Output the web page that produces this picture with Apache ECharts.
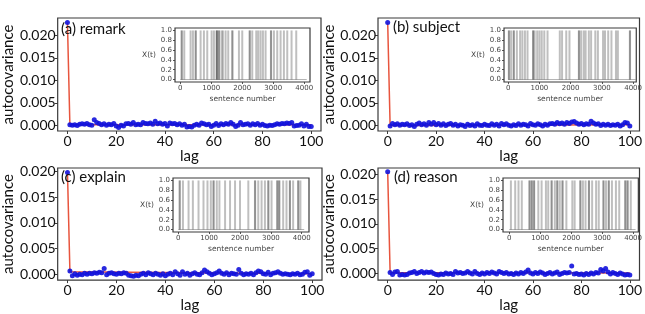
<!DOCTYPE html>
<html>
<head>
<meta charset="utf-8">
<script src="https://cdn.jsdelivr.net/npm/echarts@6.0.0/dist/echarts.min.js"></script>
<style>
  html, body { margin: 0; padding: 0; background: #fff; }
  #chart { width: 645px; height: 314px; }
</style>
</head>
<body>
<div id="chart"></div>
<script>
// tick labels
const lagTicks = [0, 20, 40, 60, 80, 100]
const acovTicks = [0, 0.005, 0.01, 0.015, 0.02]
const sentenceTicks = [0, 1000, 2000, 3000, 4000]
const xtTicks = [0, 0.2, 0.4, 0.6, 0.8, 1.0]
const panelTitles = ['(a) remark', '(b) subject', '(c) explain', '(d) reason']

// autocovariance for lag 0..100
const acfA = [0.0229,
  0.0001, 0.0000, 0.0001, -0.0001, 0.0002, 0.0003, 0.0002, 0.0004, 0.0001, 0.0000,
  0.0012, 0.0006, 0.0004, 0.0001, 0.0003, 0.0000, 0.0002, 0.0001, 0.0004, -0.0002,
  -0.0005, 0.0000, -0.0002, 0.0003, 0.0004, 0.0002, 0.0006, 0.0001, 0.0002, 0.0001,
  0.0006, 0.0004, 0.0003, 0.0005, 0.0002, 0.0009, 0.0003, 0.0005, 0.0002, 0.0004,
  -0.0002, 0.0005, 0.0003, 0.0004, 0.0001, 0.0003, 0.0000, 0.0002, -0.0004, -0.0003,
  -0.0004, 0.0000, 0.0002, 0.0000, 0.0005, 0.0003, 0.0001, 0.0002, -0.0003, 0.0000,
  0.0004, -0.0001, 0.0003, 0.0001, 0.0004, 0.0002, 0.0006, 0.0002, -0.0003, 0.0000,
  0.0006, 0.0001, 0.0002, 0.0003, 0.0000, 0.0003, 0.0001, 0.0004, 0.0000, 0.0002,
  -0.0001, -0.0002, 0.0000, -0.0001, 0.0001, 0.0003, 0.0002, 0.0004, 0.0003, 0.0005,
  0.0004, 0.0006, -0.0002, -0.0001, 0.0000, 0.0003, -0.0002, 0.0002, -0.0003, -0.0003]
const acfB = [0.0229,
  -0.0002, 0.0004, 0.0001, 0.0003, 0.0000, 0.0002, 0.0001, 0.0003, -0.0001, 0.0001,
  -0.0003, 0.0002, 0.0005, 0.0001, 0.0003, 0.0000, 0.0006, 0.0002, 0.0006, 0.0001,
  0.0004, 0.0000, 0.0003, -0.0001, 0.0002, 0.0004, 0.0000, 0.0002, -0.0002, 0.0001,
  0.0000, -0.0003, 0.0002, -0.0001, 0.0001, -0.0002, 0.0003, 0.0000, -0.0001, 0.0002,
  0.0000, -0.0001, 0.0003, 0.0000, 0.0002, -0.0002, 0.0004, 0.0001, 0.0003, 0.0000,
  -0.0002, 0.0001, -0.0001, 0.0003, 0.0000, 0.0002, 0.0001, -0.0002, 0.0004, 0.0001,
  0.0000, 0.0003, 0.0001, -0.0002, 0.0002, 0.0000, 0.0003, 0.0004, 0.0002, 0.0006,
  0.0003, 0.0005, 0.0002, 0.0006, 0.0004, 0.0007, 0.0008, 0.0005, 0.0002, 0.0004,
  0.0001, 0.0003, 0.0002, 0.0009, 0.0005, 0.0002, 0.0003, -0.0001, 0.0002, 0.0000,
  0.0002, -0.0001, 0.0001, 0.0000, 0.0002, -0.0002, 0.0001, 0.0006, 0.0005, -0.0002]
const acfC = [0.0198,
  0.0006, -0.0003, 0.0001, -0.0002, 0.0000, -0.0001, 0.0002, 0.0000, 0.0002, 0.0001,
  0.0003, 0.0002, 0.0004, 0.0003, 0.0011, -0.0001, 0.0002, 0.0003, 0.0001, 0.0000,
  0.0002, 0.0001, 0.0003, 0.0002, -0.0002, -0.0003, -0.0004, -0.0002, -0.0003, 0.0000,
  0.0002, -0.0001, 0.0003, 0.0001, -0.0001, 0.0002, 0.0000, -0.0002, 0.0001, -0.0003,
  0.0000, 0.0002, -0.0001, 0.0005, 0.0001, -0.0002, 0.0005, 0.0000, 0.0002, -0.0002,
  0.0001, 0.0003, 0.0000, -0.0001, 0.0003, 0.0008, 0.0005, 0.0002, -0.0001, 0.0001,
  0.0003, 0.0006, 0.0002, 0.0000, 0.0003, -0.0001, 0.0002, 0.0001, 0.0000, 0.0009,
  0.0002, -0.0001, 0.0001, 0.0000, 0.0002, -0.0001, 0.0003, 0.0006, 0.0005, 0.0001,
  0.0000, 0.0004, -0.0001, 0.0002, 0.0003, 0.0005, 0.0002, 0.0000, 0.0001, 0.0000,
  -0.0001, 0.0001, 0.0000, 0.0002, -0.0001, 0.0000, 0.0004, 0.0005, -0.0002, 0.0001]
const acfD = [0.0205,
  0.0002, -0.0002, 0.0003, 0.0004, -0.0003, -0.0002, -0.0003, -0.0002, 0.0001, 0.0002,
  0.0004, 0.0000, 0.0002, 0.0004, 0.0001, 0.0003, 0.0002, 0.0003, 0.0000, -0.0002,
  -0.0003, -0.0001, -0.0002, 0.0001, -0.0001, 0.0000, -0.0002, 0.0004, 0.0001, 0.0002,
  0.0000, 0.0001, 0.0004, 0.0001, -0.0001, 0.0004, 0.0000, -0.0002, 0.0001, -0.0001,
  0.0002, 0.0000, 0.0003, 0.0001, -0.0001, 0.0004, 0.0002, 0.0000, 0.0002, -0.0001,
  0.0000, -0.0002, 0.0001, -0.0001, 0.0002, 0.0000, 0.0003, 0.0007, 0.0001, -0.0001,
  0.0002, 0.0000, 0.0003, 0.0001, -0.0002, 0.0000, 0.0002, -0.0001, 0.0001, 0.0003,
  -0.0002, 0.0000, 0.0002, 0.0001, 0.0002, 0.0015, -0.0001, 0.0000, -0.0002, -0.0001,
  -0.0003, 0.0000, -0.0002, 0.0001, -0.0001, 0.0002, 0.0001, 0.0008, 0.0005, 0.0010,
  0.0003, -0.0001, 0.0002, 0.0000, -0.0002, 0.0001, -0.0001, -0.0003, -0.0002, -0.0003]

// red model curve: lags and values
const fitLags = [0, 1, 100]
const fitA = [0.0229, 0.0001, 0.0001]
const fitB = [0.0229, -0.0001, 0.0001]
const fitC = [0.0198, 0.0005, 0.0001]
const fitD = [0.0205, 0.0002, 0.0001]

// sentence numbers where the word occurs (insets)
const posA = [43, 50, 129, 333, 409, 495, 502, 656, 763, 871, 1011, 1086, 1172, 1180, 1190, 1247, 1255,
  1333, 1376, 1462, 1548, 1677, 1685, 1893, 2000, 2237, 2245, 2323, 2452, 2516, 2591, 2667, 2753,
  2925, 2932, 3022, 3129, 3237, 3344, 3452, 3591, 3742]
const posB = [21, 28, 93, 176, 183, 279, 382, 455, 537, 620, 796, 803, 847, 930, 1002, 1075, 1157, 1261,
  1653, 1726, 1860, 1963, 2263, 2270, 2335, 2418, 2480, 2583, 2656, 2790, 2873, 3038, 3100, 3203,
  3307, 3451, 3513, 3896, 3903]
const posC = [43, 50, 151, 333, 473, 656, 817, 946, 1054, 1140, 1147, 1247, 1333, 1516, 1677, 1839, 2000,
  2269, 2484, 2491, 2591, 2699, 2807, 2914, 2921, 3022, 3204, 3211, 3269, 3276, 3398, 3506, 3613,
  3620, 3721, 3882, 3889, 3957]
const posD = [53, 192, 299, 405, 651, 658, 725, 732, 800, 807, 939, 1045, 1184, 1259, 1365, 1372, 1472,
  1547, 1554, 1632, 1717, 1724, 1845, 2037, 2112, 2293, 2300, 2379, 2464, 2571, 2578, 2677, 2805,
  2891, 3040, 3047, 3125, 3211, 3218, 3317, 3445, 3552, 3744, 3751, 3819, 3826, 3925]
const sentenceSpan = [0, 4080]

const FONT = 'Lato, "Open Sans", sans-serif'
const SMALL = '"DejaVu Sans", sans-serif'

// layout of each panel (main box + inset box, px)
const panels = [
  { acf: acfA, fit: fitA, pos: posA, main: { left: 46, top: 18, width: 275, height: 113 }, yMin: -0.0013, yMax: 0.0239,
    inset: { left: 175, top: 28, width: 135, height: 54 }, sMin: -170, sMax: 4186, title: { left: 61, top: 22 } },
  { acf: acfB, fit: fitB, pos: posB, main: { left: 378, top: 18, width: 268, height: 113 }, yMin: -0.0013, yMax: 0.0239,
    inset: { left: 504, top: 28, width: 136, height: 54 }, sMin: -133, sMax: 4102, title: { left: 393, top: 20 } },
  { acf: acfC, fit: fitC, pos: posC, main: { left: 46, top: 168, width: 276, height: 114 }, yMin: -0.00115, yMax: 0.0207,
    inset: { left: 173, top: 178, width: 136, height: 54 }, sMin: -171, sMax: 4235, title: { left: 61, top: 170 } },
  { acf: acfD, fit: fitD, pos: posD, main: { left: 378, top: 168, width: 268, height: 113 }, yMin: -0.00134, yMax: 0.02126,
    inset: { left: 503, top: 178, width: 136, height: 54 }, sMin: -202, sMax: 4170, title: { left: 394, top: 170 } }
]

const grid = []
const xAxis = []
const yAxis = []
const series = []

panels.forEach((p, i) => {
  const gMain = i * 2
  const gInset = i * 2 + 1

  grid.push({ ...p.main, show: true, borderColor: '#3a3a3a', borderWidth: 1.2, backgroundColor: '#fff' })
  grid.push({ ...p.inset, show: true, borderColor: '#3a3a3a', borderWidth: 1.2, backgroundColor: '#fff', z: 5 })

  // main axes
  xAxis.push({
    gridIndex: gMain, type: 'value', min: -4, max: 104,
    splitLine: { show: false },
    axisLine: { show: false, onZero: false },
    axisTick: { show: true, length: 3, customValues: lagTicks, lineStyle: { color: '#3a3a3a' } },
    axisLabel: { customValues: lagTicks, margin: 3, fontSize: 14, color: '#111', fontFamily: FONT },
    name: 'lag', nameLocation: 'middle', nameGap: 14,
    nameTextStyle: { fontSize: 15, color: '#111', fontFamily: FONT }
  })
  yAxis.push({
    gridIndex: gMain, type: 'value', min: p.yMin, max: p.yMax,
    splitLine: { show: false },
    axisLine: { show: false, onZero: false },
    axisTick: { show: true, length: 3, customValues: acovTicks, lineStyle: { color: '#3a3a3a' } },
    axisLabel: { customValues: acovTicks, margin: 2, fontSize: 14, color: '#111', fontFamily: FONT,
      formatter: v => v.toFixed(3) },
    name: 'autocovariance', nameLocation: 'middle', nameRotate: 90, nameGap: 36,
    nameTextStyle: { fontSize: 15, color: '#111', fontFamily: FONT }
  })

  // inset axes
  xAxis.push({
    gridIndex: gInset, type: 'value', min: p.sMin, max: p.sMax,
    splitLine: { show: false },
    axisLine: { show: false, onZero: false },
    axisTick: { show: true, length: 2, customValues: sentenceTicks, lineStyle: { color: '#555' } },
    axisLabel: { customValues: sentenceTicks, margin: 3, fontSize: 7, color: '#444', fontFamily: SMALL,
      formatter: v => String(v) },
    name: 'sentence number', nameLocation: 'middle', nameGap: 13,
    nameTextStyle: { fontSize: 7.5, color: '#444', fontFamily: SMALL }
  })
  yAxis.push({
    gridIndex: gInset, type: 'value', min: -0.05, max: 1.05,
    splitLine: { show: false },
    axisLine: { show: false, onZero: false },
    axisTick: { show: true, length: 2, customValues: xtTicks, lineStyle: { color: '#555' } },
    axisLabel: { customValues: xtTicks, margin: 3, fontSize: 7, color: '#444', fontFamily: SMALL,
      formatter: v => v.toFixed(1) },
    name: 'X(t)', nameLocation: 'middle', nameRotate: 0, nameGap: 17,
    nameTextStyle: { fontSize: 7.5, color: '#444', fontFamily: SMALL }
  })

  series.push({
    type: 'line', xAxisIndex: gMain, yAxisIndex: gMain,
    data: fitLags.map((l, k) => [l, p.fit[k]]),
    symbol: 'none', lineStyle: { color: '#e8553e', width: 1.5 }, z: 2, silent: true
  })
  series.push({
    type: 'scatter', xAxisIndex: gMain, yAxisIndex: gMain,
    data: p.acf.map((v, lag) => [lag, v]),
    symbolSize: 5, itemStyle: { color: '#1212dc', opacity: 0.9 }, z: 3, silent: true
  })
  series.push({
    type: 'bar', xAxisIndex: gInset, yAxisIndex: gInset,
    data: p.pos.map(s => [s, 1]),
    barWidth: 2, itemStyle: { color: 'rgba(0,0,0,0.25)' }, z: 6, silent: true
  })
  series.push({
    type: 'line', xAxisIndex: gInset, yAxisIndex: gInset,
    data: sentenceSpan.map(s => [s, 0]),
    symbol: 'none', lineStyle: { color: 'rgba(0,0,0,0.3)', width: 1 }, z: 6, silent: true
  })
})

const chart = echarts.init(document.getElementById('chart'), null, { renderer: 'canvas' })
chart.setOption({
  animation: false,
  backgroundColor: '#fff',
  title: panels.map((p, i) => ({
    text: panelTitles[i], left: p.title.left, top: p.title.top, padding: 0, z: 10,
    textStyle: { fontSize: 15, fontWeight: 'normal', color: '#111', fontFamily: FONT }
  })),
  grid,
  xAxis,
  yAxis,
  series
})
</script>
</body>
</html>
